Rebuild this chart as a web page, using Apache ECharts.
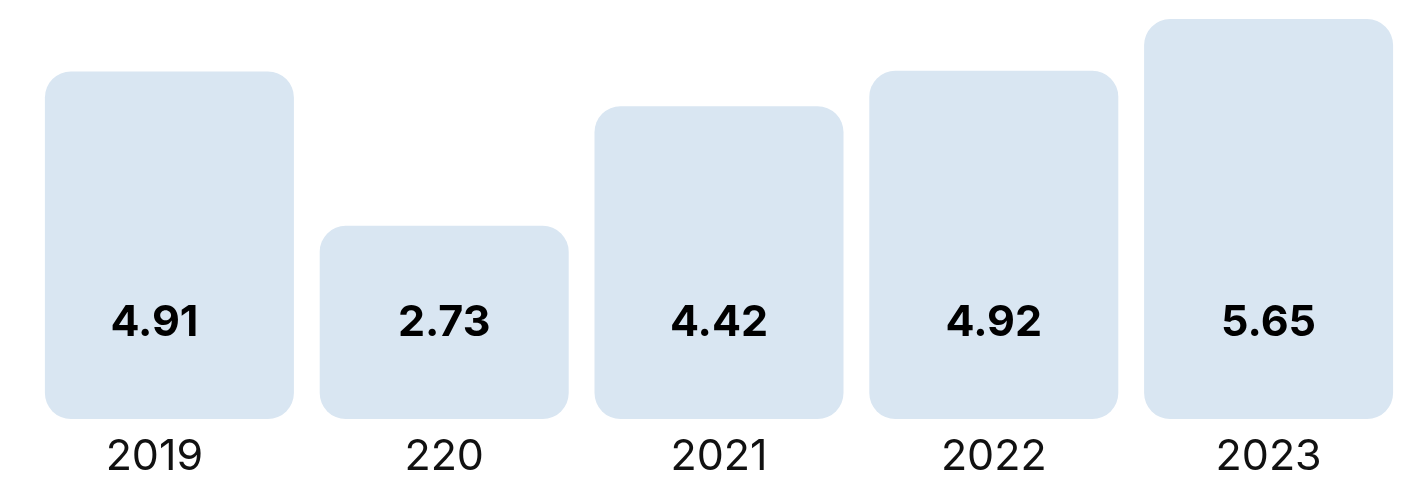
<!DOCTYPE html>
<html>
<head>
<meta charset="utf-8">
<script src="https://cdn.jsdelivr.net/npm/echarts@6/dist/echarts.min.js"></script>
<style>
  html, body { margin: 0; padding: 0; background: #ffffff; }
  #chart { width: 1415px; height: 479px; }
</style>
</head>
<body>
<div id="chart"></div>
<script>
// Yearly values shown as rounded columns
const categories = ['2019', '220', '2021', '2022', '2023'];
const values = [4.91, 2.73, 4.42, 4.92, 5.65];

// The first column's texts sit a little left of its bar centre
const FIRST_TEXT_SHIFT = 15;

const chart = echarts.init(document.getElementById('chart'), null, { renderer: 'canvas' });

const textFont = { fontFamily: 'Inter', fontSize: 43, lineHeight: 43 };

chart.setOption({
  animation: false,
  grid: { left: 32, right: 9, top: 0, bottom: 60, containLabel: false },
  xAxis: {
    type: 'category',
    data: categories,
    axisLine: { show: false },
    axisTick: { show: false },
    axisLabel: Object.assign({
      color: '#111111',
      fontWeight: 'normal',
      margin: 17,
      formatter: (val, idx) => idx === 0 ? '{s|' + val + '}' : val,
      rich: {
        s: Object.assign({
          color: '#111111',
          padding: [0, FIRST_TEXT_SHIFT * 2, 0, 0]
        }, textFont)
      }
    }, textFont)
  },
  yAxis: {
    type: 'value',
    min: 0,
    max: 5.92,
    show: false,
    splitLine: { show: false }
  },
  series: [{
    type: 'bar',
    data: values.map((v, i) => i === 0
      ? { value: v, label: { offset: [-FIRST_TEXT_SHIFT, 0] } }
      : v),
    barWidth: 249,
    itemStyle: { color: '#d9e6f2', borderRadius: 26 },
    label: Object.assign({
      show: true,
      position: 'insideBottom',
      distance: 74,
      color: '#000000',
      fontWeight: 'bold',
      formatter: p => p.value.toFixed(2)
    }, textFont)
  }]
});
</script>
</body>
</html>
